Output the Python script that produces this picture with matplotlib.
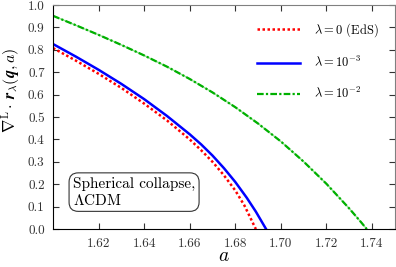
import matplotlib
matplotlib.use("Agg")
import matplotlib.pyplot as plt

plt.rcParams['mathtext.fontset'] = 'cm'
plt.rcParams['font.family'] = 'serif'
plt.rcParams['font.serif'] = ['cmr10', 'DejaVu Serif']
plt.rcParams['axes.formatter.use_mathtext'] = True

a_eds = [1.600, 1.610, 1.620, 1.630, 1.640, 1.650, 1.660, 1.665, 1.670, 1.675, 1.680, 1.684, 1.689]
y_eds = [0.808, 0.752, 0.693, 0.630, 0.560, 0.485, 0.400, 0.352, 0.300, 0.240, 0.172, 0.105, 0.0]

a_l3 = [1.600, 1.610, 1.620, 1.630, 1.640, 1.650, 1.660, 1.665, 1.670, 1.675, 1.680, 1.685, 1.689, 1.6935]
y_l3 = [0.826, 0.770, 0.711, 0.648, 0.580, 0.505, 0.423, 0.378, 0.328, 0.272, 0.210, 0.140, 0.078, 0.0]

a_l2 = [1.600, 1.610, 1.620, 1.630, 1.640, 1.650, 1.660, 1.670, 1.680, 1.690, 1.700, 1.710, 1.720, 1.730, 1.735, 1.7377]
y_l2 = [0.952, 0.910, 0.867, 0.822, 0.775, 0.725, 0.670, 0.610, 0.544, 0.471, 0.391, 0.301, 0.202, 0.092, 0.033, 0.0]

labels = [r'$\lambda=0$ (EdS)', r'$\lambda=10^{-3}$', r'$\lambda=10^{-2}$']
xticks = [1.62, 1.64, 1.66, 1.68, 1.70, 1.72, 1.74]
yticks = [0.0, 0.1, 0.2, 0.3, 0.4, 0.5, 0.6, 0.7, 0.8, 0.9, 1.0]

fig = plt.figure(figsize=(3.96, 2.67), dpi=100)
ax = fig.add_axes([0.134, 0.142, 0.863, 0.839])

ax.plot(a_eds, y_eds, color='red', lw=1.8, ls=(0, (1, 1)), label=labels[0])
ax.plot(a_l3, y_l3, color='#0000ff', lw=1.8, ls='-', label=labels[1])
ax.plot(a_l2, y_l2, color='#90e090', lw=1.0, ls='-')
ax.plot(a_l2, y_l2, color='#00b000', lw=1.6, ls=(0, (3, 1, 1, 1)), label=labels[2])

ax.set_xlim(1.60, 1.75)
ax.set_ylim(0.0, 1.0)
ax.set_xticks(xticks)
ax.set_xticklabels([f'{v:.2f}' for v in xticks])
ax.set_yticks(yticks)
ax.set_yticklabels([f'{v:.1f}' for v in yticks])
ax.tick_params(direction='in', top=True, right=True, length=4, width=0.8,
               labelsize=9.5, colors='#333333', pad=6)
for s in ['top', 'right']:
    ax.spines[s].set_color('#808080')
for s in ['left', 'bottom']:
    ax.spines[s].set_color('black')

ax.set_xlabel(r'$a$', fontsize=14, labelpad=-2)
ax.set_ylabel(r'$\nabla^{\rm L}\cdot\,\mathbfit{r}_\lambda(\mathbfit{q},a)$', fontsize=11.5)
ax.yaxis.set_label_coords(-0.09, 0.62)

leg = ax.legend(loc='upper right', frameon=False, fontsize=9, handlelength=3.5,
                labelspacing=1.3, handletextpad=1.1, borderaxespad=0.6,
                bbox_to_anchor=(0.99, 0.985))

ax.text(0.058, 0.165, 'Spherical collapse,\n$\\Lambda$CDM', transform=ax.transAxes,
        fontsize=11, va='center', ha='left', linespacing=1.15,
        bbox=dict(boxstyle='round,pad=0.25,rounding_size=0.6', fc='white', ec='#333333', lw=0.8))

fig.savefig('out.png', dpi=100)
